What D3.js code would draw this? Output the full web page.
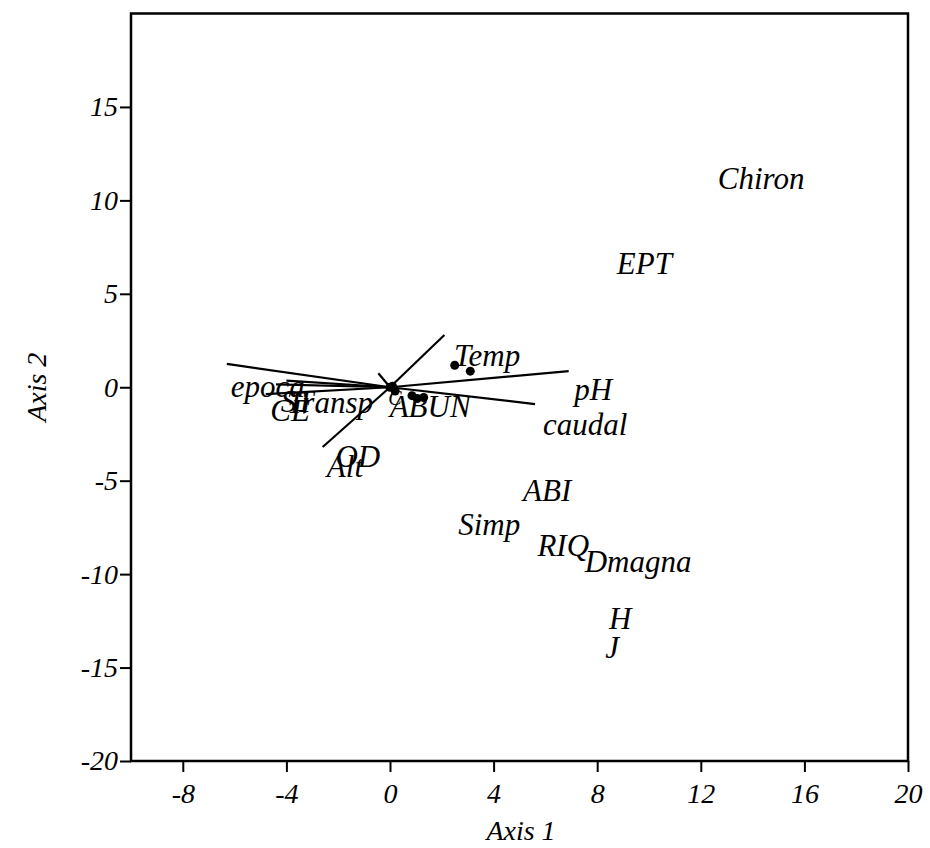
<!DOCTYPE html>
<html>
<head>
<meta charset="utf-8">
<script src="https://cdn.jsdelivr.net/npm/d3@7"></script>
<style>
  body { margin: 0; background: #fff; }
  text { font-family: "Liberation Serif", "DejaVu Serif", serif; font-style: italic; fill: #000; }
  .axis text { font-size: 28px; }
  .axis path, .axis line { stroke: #000; stroke-width: 2px; }
</style>
</head>
<body>
<svg id="chart"></svg>
<script>
// label positions (Axis 1, Axis 2)
const labelNames = ['Chiron', 'EPT', 'Temp', 'pH', 'caudal', 'epoca', 'ST', 'Transp', 'CE', 'C',
  'ABUN', 'OD', 'Alt', 'ABI', 'Simp', 'RIQ', 'Dmagna', 'H', 'J'];
const labelX = [14.33, 9.82, 3.75, 7.85, 7.54, -4.72, -3.59, -2.32, -3.86, 0.19,
  1.55, -1.24, -1.74, 6.07, 3.83, 6.69, 9.58, 8.89, 8.58];
const labelY = [11.18, 6.63, 1.71, -0.11, -1.98, 0.05, -0.75, -0.80, -1.23, -0.59,
  -1.02, -3.69, -4.22, -5.51, -7.33, -8.45, -9.30, -12.35, -13.9];

// sample points
const pointX = [0, 0.1, 0.2, 0.85, 1.05, 1.3, 2.5, 3.1];
const pointY = [0, 0.05, -0.2, -0.45, -0.6, -0.55, 1.18, 0.86];

// biplot vector ends (start at origin)
const vecX = [-6.3, -4.4, -4.0, -4.8, 6.9, 5.6, 2.1, -2.6, -0.45];
const vecY = [1.25, 0.15, 0.35, -0.37, 0.86, -0.9, 2.8, -3.2, 0.75];

const xTicks = [-8, -4, 0, 4, 8, 12, 16, 20];
const yTicks = [-20, -15, -10, -5, 0, 5, 10, 15];

const W = 930, H = 848;
const margin = {top: 13.5, right: 22, bottom: 87, left: 131};
const width = W - margin.left - margin.right;
const height = H - margin.top - margin.bottom;

const svg = d3.select('#chart').attr('width', W).attr('height', H);
const chart = svg.append('g').attr('transform', `translate(${margin.left},${margin.top})`);

const xScale = d3.scaleLinear().domain([-10, 20]).range([0, width]);
const yScale = d3.scaleLinear().domain([-20, 20]).range([height, 0]);

// frame
chart.append('rect')
    .attr('width', width).attr('height', height)
    .attr('fill', 'none').attr('stroke', '#000').attr('stroke-width', 2.5);

// axes (plain hyphen for negatives, like the original)
const fmt = d => String(d);

chart.append('g')
    .attr('class', 'axis x-axis')
    .attr('transform', `translate(0,${height})`)
    .call(d3.axisBottom(xScale).tickValues(xTicks).tickFormat(fmt).tickSize(11).tickPadding(11).tickSizeOuter(0))
    .call(g => g.select('.domain').remove());

chart.append('g')
    .attr('class', 'axis y-axis')
    .call(d3.axisLeft(yScale).tickValues(yTicks).tickFormat(fmt).tickSize(11).tickPadding(2).tickSizeOuter(0))
    .call(g => g.select('.domain').remove());

// vectors
chart.selectAll('.vec')
    .data(vecX.map((d, i) => ({x: d, y: vecY[i]})))
  .join('line')
    .attr('class', 'vec')
    .attr('x1', xScale(0)).attr('y1', yScale(0))
    .attr('x2', d => xScale(d.x)).attr('y2', d => yScale(d.y))
    .attr('stroke', '#000').attr('stroke-width', 2.2);

// points
chart.selectAll('.point')
    .data(pointX.map((d, i) => ({x: d, y: pointY[i]})))
  .join('circle')
    .attr('class', 'point')
    .attr('cx', d => xScale(d.x)).attr('cy', d => yScale(d.y))
    .attr('r', 4.5).attr('fill', '#000');

// labels
chart.selectAll('.lbl')
    .data(labelNames.map((d, i) => ({name: d, x: labelX[i], y: labelY[i]})))
  .join('text')
    .attr('class', 'lbl')
    .attr('x', d => xScale(d.x)).attr('y', d => yScale(d.y))
    .attr('dy', '0.35em')
    .attr('text-anchor', 'middle')
    .style('font-size', d => d.name === 'C' ? '20px' : '31px')
    .text(d => d.name);

// axis titles
svg.append('text')
    .attr('x', 521).attr('y', 840)
    .attr('text-anchor', 'middle')
    .style('font-size', '28px')
    .text('Axis 1');

svg.append('text')
    .attr('transform', `translate(46,${margin.top + height / 2}) rotate(-90)`)
    .attr('text-anchor', 'middle')
    .style('font-size', '28px')
    .text('Axis 2');
</script>
</body>
</html>
